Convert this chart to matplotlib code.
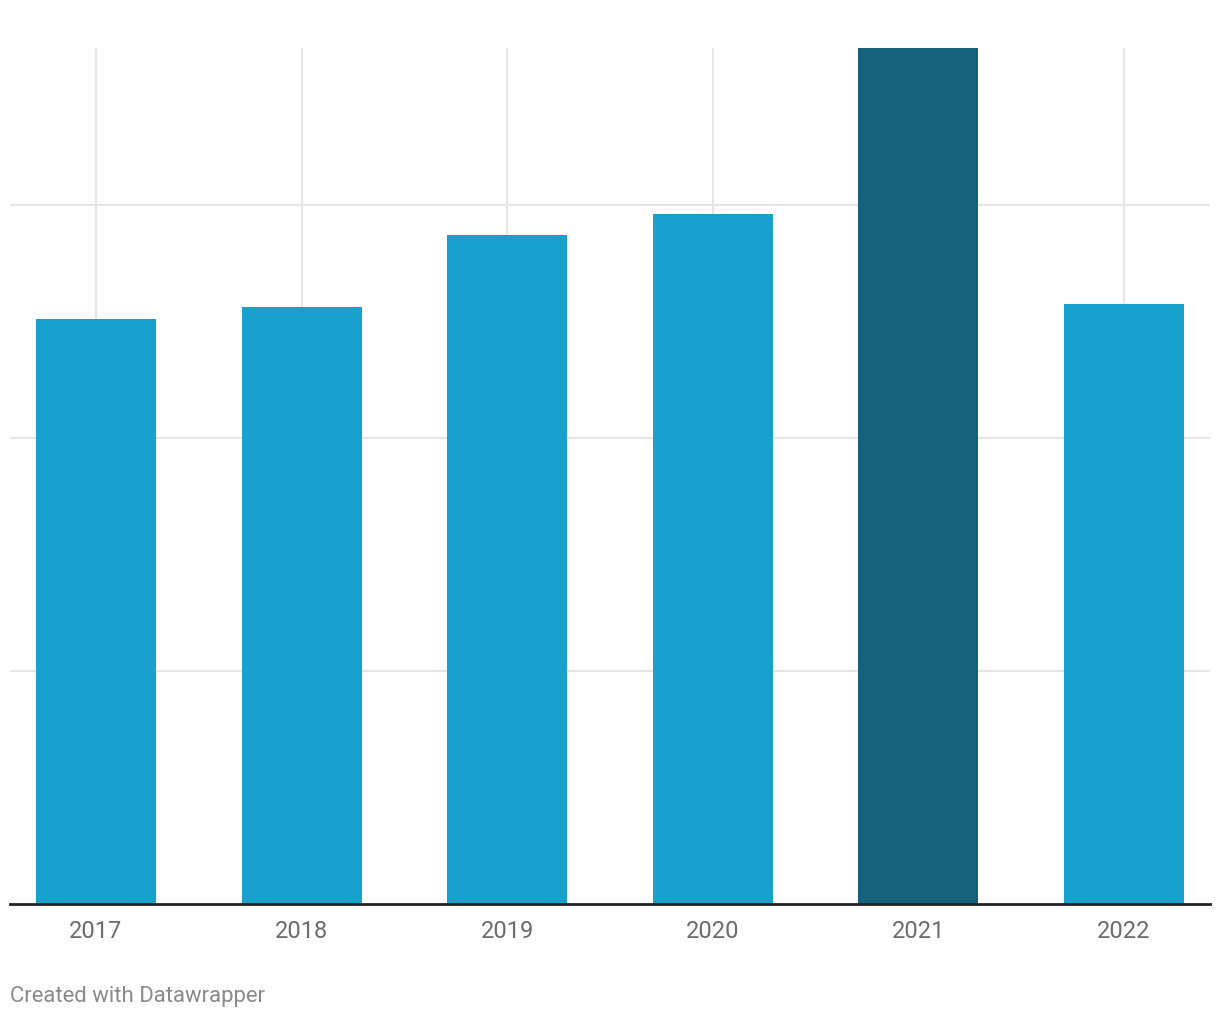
import matplotlib.pyplot as plt

plt.rcParams['font.family'] = ['Roboto', 'DejaVu Sans']

# datos (sin escala visible)
anios = ['2017', '2018', '2019', '2020', '2021', '2022']
valores = [2.51, 2.56, 2.87, 2.96, 3.674, 2.575]
colores = ['#18a1cd', '#18a1cd', '#18a1cd', '#18a1cd', '#15607a', '#18a1cd']
lineasGuia = [1, 2, 3]

fig = plt.figure(figsize=(12.2, 10.2), dpi=100)
ax = fig.add_axes([10 / 1220, 115.5 / 1020, 1200 / 1220, 856 / 1020])

posiciones = list(range(len(anios)))
ax.bar(posiciones, valores, width=0.584, color=colores, zorder=3)

# lineas de guia
for y in lineasGuia:
    ax.axhline(y, color='#e5e5e5', linewidth=1.5, zorder=1)
for x in posiciones:
    ax.axvline(x, color='#e5e5e5', linewidth=1.5, zorder=1)
ax.axhline(0, color='#222222', linewidth=2, zorder=4, clip_on=False)

ax.set_xlim(-0.418, len(anios) - 1 + 0.418)
ax.set_ylim(0, max(valores))
ax.set_xticks(posiciones)
ax.set_xticklabels(anios, fontsize=17, color='#6b6b6b')
ax.tick_params(axis='x', length=0, pad=11)
ax.set_yticks([])
for lado in ax.spines.values():
    lado.set_visible(False)

fig.text(10 / 1220, 1 - 997 / 1020, 'Created with Datawrapper', fontsize=15.9,
         color='#8a8a8a', va='center', ha='left')

plt.savefig('out.png', dpi=100)
